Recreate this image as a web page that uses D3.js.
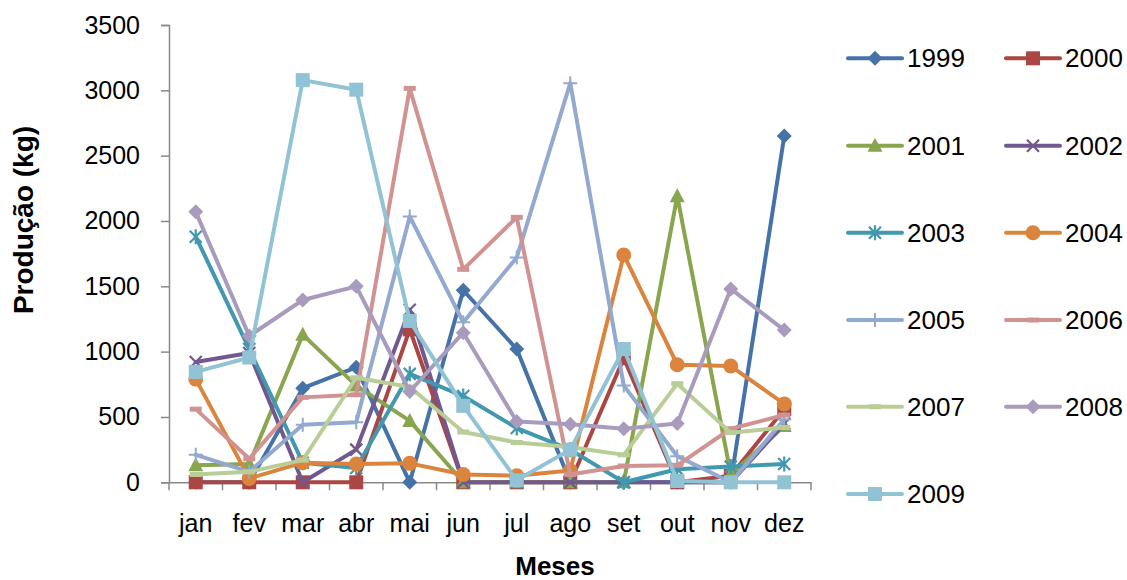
<!DOCTYPE html>
<html><head><meta charset="utf-8">
<script src="https://cdn.jsdelivr.net/npm/d3@7"></script>
<style>
html,body{margin:0;padding:0;background:#fff;}
svg{display:block;font-family:"Liberation Sans",Arial,sans-serif;}
</style></head>
<body><svg id="chart" width="1127" height="580"></svg>
<script>
const months = ["jan","fev","mar","abr","mai","jun","jul","ago","set","out","nov","dez"];
const years = ["1999","2000","2001","2002","2003","2004","2005","2006","2007","2008","2009"];
const yTicks = [0,500,1000,1500,2000,2500,3000,3500];
const v1999 = [0,0,720,880,0,1470,1020,0,0,0,0,2650];
const v2000 = [0,0,0,0,1170,0,0,0,950,0,50,560];
const v2001 = [130,140,1130,740,470,0,0,0,0,2190,60,430];
const v2002 = [920,990,0,250,1320,0,0,0,0,0,0,450];
const v2003 = [1880,1020,150,110,830,660,415,250,0,100,120,140];
const v2004 = [790,30,150,140,145,60,50,90,1740,900,890,600];
const v2005 = [210,80,440,460,2035,1225,1720,3055,740,200,0,480];
const v2006 = [560,180,650,670,3015,1630,2028,60,125,130,410,515];
const v2007 = [60,80,170,800,730,385,305,270,210,755,380,420];
const v2008 = [2070,1120,1395,1500,695,1145,465,445,410,450,1480,1165];
const v2009 = [845,955,3078,3005,1235,585,15,250,1020,10,0,0];

const seriesValues = [v1999,v2000,v2001,v2002,v2003,v2004,v2005,v2006,v2007,v2008,v2009];
const colors = ["#4572A7","#AA4643","#89A54E","#71588F","#4198AF","#DB843D","#93A9CF","#D19392","#B9CD96","#A99BBD","#91C3D5"];
const markers = ["diamond","square","triangle","x","star","circle","plus","dash","dash","diamond","square"];

const svg = d3.select("#chart");
const x = d3.scaleBand().domain(months).range([169, 811]);
const y = d3.scaleLinear().domain([0,3500]).range([482.3, 25]);
const cx = m => x(m) + x.bandwidth()/2;
const axisColor = "#898989";

// y axis
const yAxis = svg.append("g").attr("transform","translate(169,0)")
  .call(d3.axisLeft(y).tickValues(yTicks).tickSize(8).tickPadding(21).tickFormat(d3.format("d")));
yAxis.select(".domain").attr("stroke",axisColor).attr("stroke-width",1.5);
yAxis.selectAll(".tick line").attr("stroke",axisColor).attr("stroke-width",1.5);
yAxis.selectAll(".tick text").attr("font-size",25).attr("fill","#000").attr("font-family","Liberation Sans, Arial, sans-serif");

// x axis
const xAxis = svg.append("g").attr("transform","translate(0,482.3)")
  .call(d3.axisBottom(x).tickSize(0).tickPadding(32));
xAxis.select(".domain").attr("stroke",axisColor).attr("stroke-width",1.5);
xAxis.selectAll(".tick text").attr("font-size",25).attr("fill","#000").attr("font-family","Liberation Sans, Arial, sans-serif");
const bounds = months.map(m => x(m)).concat([x(months[months.length-1]) + x.bandwidth()]);
xAxis.selectAll("line.bt").data(bounds).enter().append("line").attr("class","bt")
  .attr("x1",d=>d).attr("x2",d=>d).attr("y1",0).attr("y2",8)
  .attr("stroke",axisColor).attr("stroke-width",1.5);

// axis titles
svg.append("text").attr("x",555).attr("y",575).attr("text-anchor","middle")
  .attr("font-size",26).attr("font-weight","bold").text("Meses");
svg.append("text").attr("transform","translate(33,220) rotate(-90)").attr("text-anchor","middle")
  .attr("font-size",28).attr("font-weight","bold").text("Produção (kg)");

function drawMarker(g, type, color, px, py) {
  switch(type) {
    case "diamond": {
      const s = 7.5;
      g.append("path").attr("d",`M${px},${py-s}L${px+s},${py}L${px},${py+s}L${px-s},${py}Z`).attr("fill",color);
      break; }
    case "square":
      g.append("rect").attr("x",px-7).attr("y",py-7).attr("width",14).attr("height",14).attr("fill",color);
      break;
    case "triangle":
      g.append("path").attr("d",`M${px},${py-8}L${px+7.5},${py+6}L${px-7.5},${py+6}Z`).attr("fill",color);
      break;
    case "circle":
      g.append("circle").attr("cx",px).attr("cy",py).attr("r",7.5).attr("fill",color);
      break;
    case "x": {
      const s = 6;
      g.append("path").attr("d",`M${px-s},${py-s}L${px+s},${py+s}M${px+s},${py-s}L${px-s},${py+s}`).attr("stroke",color).attr("stroke-width",2.2).attr("fill","none");
      break; }
    case "star": {
      const s = 6;
      g.append("path").attr("d",`M${px-s},${py-s}L${px+s},${py+s}M${px+s},${py-s}L${px-s},${py+s}M${px},${py-s-1.5}L${px},${py+s+1.5}`).attr("stroke",color).attr("stroke-width",2.2).attr("fill","none");
      break; }
    case "plus": {
      const s = 7;
      g.append("path").attr("d",`M${px-s},${py}L${px+s},${py}M${px},${py-s}L${px},${py+s}`).attr("stroke",color).attr("stroke-width",2).attr("fill","none");
      break; }
    case "dash":
      g.append("rect").attr("x",px-6).attr("y",py-2.5).attr("width",12).attr("height",5).attr("fill",color);
      break;
  }
}

const line = d3.line().x(d => cx(d.m)).y(d => y(d.v));
seriesValues.forEach((vals, i) => {
  const g = svg.append("g");
  const pts = months.map((m, j) => ({m, v: vals[j]}));
  g.append("path").datum(pts).attr("d", line).attr("fill","none")
    .attr("stroke", colors[i]).attr("stroke-width", 4).attr("stroke-linejoin","round").attr("stroke-linecap","round");
  pts.forEach(p => drawMarker(g, markers[i], colors[i], cx(p.m), y(p.v)));
});

// legend
const rowY = [58.3, 145.7, 232.7, 320, 406.7, 494];
const colX = [848, 1006];
years.forEach((yr, i) => {
  const r = Math.floor(i/2), c = i % 2;
  const lx = colX[c], ly = rowY[r];
  const g = svg.append("g");
  g.append("line").attr("x1",lx).attr("x2",lx+54).attr("y1",ly).attr("y2",ly)
    .attr("stroke",colors[i]).attr("stroke-width",4).attr("stroke-linecap","round");
  drawMarker(g, markers[i], colors[i], lx+27, ly);
  g.append("text").attr("x",lx+59).attr("y",ly).attr("dominant-baseline","central")
    .attr("font-size",26).attr("fill","#000").text(yr);
});
</script>
</body></html>
